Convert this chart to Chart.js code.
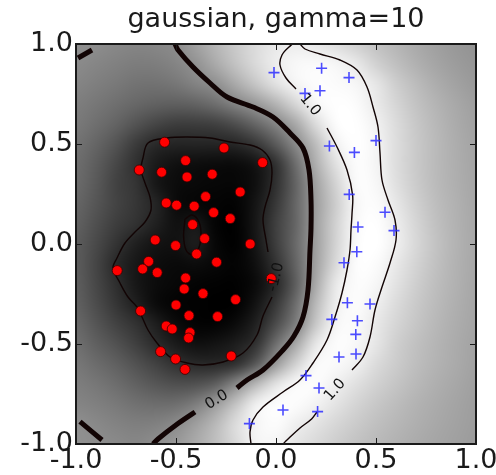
<!DOCTYPE html>
<html>
<head>
<meta charset="utf-8">
<script src="https://cdn.jsdelivr.net/npm/chart.js@4/dist/chart.umd.min.js"></script>
<style>
    html, body { margin: 0; padding: 0; background: #fff; }
</style>
</head>
<body>
<canvas id="svmChart" width="496" height="475"></canvas>
<script>
const titleText = 'gaussian, gamma=10';
const tickValues = [-1.0, -0.5, 0.0, 0.5, 1.0];

// class -1 samples (red dots)
const redPoints = [
    [-0.557, 0.509], [-0.26, 0.48], [-0.067, 0.407], [-0.684, 0.37], [-0.452, 0.417],
    [-0.572, 0.359], [-0.445, 0.335], [-0.319, 0.349], [-0.179, 0.26], [-0.352, 0.237],
    [-0.549, 0.205], [-0.497, 0.194], [-0.409, 0.189], [-0.312, 0.157], [-0.229, 0.127],
    [-0.417, 0.097], [-0.604, 0.02], [-0.502, -0.008], [-0.357, 0.027], [-0.397, -0.05],
    [-0.129, 0.0], [-0.637, -0.087], [-0.667, -0.125], [-0.794, -0.133], [-0.594, -0.143],
    [-0.297, -0.091], [-0.452, -0.17], [-0.024, -0.173], [-0.459, -0.225], [-0.365, -0.248],
    [-0.202, -0.278], [-0.5, -0.305], [-0.677, -0.335], [-0.435, -0.358], [-0.292, -0.363],
    [-0.549, -0.41], [-0.519, -0.425], [-0.43, -0.443], [-0.437, -0.47], [-0.577, -0.538],
    [-0.502, -0.575], [-0.224, -0.56], [-0.455, -0.627]
];

// class +1 samples (blue crosses)
const bluePoints = [
    [-0.01, 0.857], [0.228, 0.879], [0.365, 0.832], [0.145, 0.753], [0.22, 0.766],
    [0.5, 0.517], [0.267, 0.49], [0.392, 0.458], [0.366, 0.248], [0.545, 0.159],
    [0.41, 0.085], [0.59, 0.067], [0.404, -0.039], [0.34, -0.094], [0.357, -0.294],
    [0.47, -0.3], [0.279, -0.377], [0.407, -0.384], [0.399, -0.452], [0.315, -0.565],
    [0.4, -0.55], [0.15, -0.658], [0.215, -0.72], [0.035, -0.83], [0.208, -0.838],
    [-0.133, -0.898]
];

const gridX = [-1.0, -0.9, -0.8, -0.7, -0.6, -0.5, -0.4, -0.3, -0.2, -0.1, 0.0, 0.1, 0.2, 0.3, 0.4, 0.5, 0.6, 0.7, 0.8, 0.9, 1.0];
const gridY = [1.0, 0.9, 0.8, 0.7, 0.6, 0.5, 0.4, 0.3, 0.2, 0.1, 0.0, -0.1, -0.2, -0.3, -0.4, -0.5, -0.6, -0.7, -0.8, -0.9, -1.0];
const decision = [
    [0.03, 0.0, -0.05, -0.08, -0.06, 0.0, 0.2, 0.42, 0.62, 0.8, 0.93, 0.98, 0.93, 0.83, 0.7, 0.55, 0.42, 0.3, 0.2, 0.12, 0.07],
    [-0.02, -0.07, -0.12, -0.16, -0.15, -0.08, 0.06, 0.3, 0.55, 0.78, 0.97, 1.08, 1.1, 1.06, 0.93, 0.7, 0.52, 0.37, 0.25, 0.16, 0.1],
    [-0.08, -0.14, -0.2, -0.26, -0.27, -0.22, -0.1, 0.03, 0.3, 0.58, 0.85, 1.04, 1.13, 1.12, 1.06, 0.9, 0.66, 0.48, 0.33, 0.22, 0.14],
    [-0.15, -0.22, -0.3, -0.38, -0.44, -0.46, -0.42, -0.3, -0.1, 0.12, 0.4, 0.75, 1.06, 1.15, 1.12, 0.95, 0.74, 0.55, 0.4, 0.28, 0.19],
    [-0.2, -0.3, -0.42, -0.58, -0.72, -0.8, -0.8, -0.76, -0.62, -0.38, -0.08, 0.3, 0.8, 1.12, 1.15, 1.02, 0.8, 0.6, 0.44, 0.31, 0.22],
    [-0.27, -0.4, -0.58, -0.82, -1.0, -1.05, -1.05, -1.05, -1.02, -0.85, -0.5, -0.02, 0.5, 1.0, 1.15, 1.05, 0.82, 0.62, 0.46, 0.33, 0.24],
    [-0.32, -0.48, -0.7, -0.93, -1.15, -1.25, -1.28, -1.3, -1.3, -1.2, -0.9, -0.3, 0.35, 0.85, 1.12, 1.05, 0.82, 0.62, 0.46, 0.34, 0.25],
    [-0.35, -0.52, -0.75, -0.9, -1.18, -1.3, -1.33, -1.35, -1.35, -1.25, -0.92, -0.4, 0.22, 0.72, 1.1, 1.08, 0.85, 0.64, 0.47, 0.35, 0.26],
    [-0.4, -0.56, -0.74, -0.88, -1.06, -1.3, -1.35, -1.38, -1.38, -1.2, -0.85, -0.38, 0.18, 0.66, 1.06, 1.12, 0.92, 0.69, 0.5, 0.37, 0.27],
    [-0.45, -0.62, -0.8, -0.93, -1.1, -1.25, -1.2, -1.38, -1.4, -1.18, -0.78, -0.38, 0.2, 0.7, 1.08, 1.15, 0.98, 0.74, 0.53, 0.38, 0.28],
    [-0.5, -0.68, -0.9, -1.1, -1.22, -1.25, -1.15, -1.35, -1.4, -1.2, -0.8, -0.35, 0.2, 0.72, 1.1, 1.16, 1.0, 0.76, 0.55, 0.39, 0.28],
    [-0.5, -0.72, -1.0, -1.18, -1.28, -1.32, -1.3, -1.35, -1.38, -1.25, -0.9, -0.4, 0.22, 0.78, 1.12, 1.12, 0.93, 0.72, 0.53, 0.38, 0.28],
    [-0.48, -0.7, -0.95, -1.18, -1.3, -1.35, -1.38, -1.4, -1.4, -1.3, -1.0, -0.45, 0.3, 0.92, 1.12, 1.07, 0.87, 0.67, 0.5, 0.37, 0.27],
    [-0.45, -0.65, -0.88, -1.1, -1.3, -1.38, -1.4, -1.42, -1.4, -1.22, -0.85, -0.3, 0.45, 0.98, 1.12, 1.0, 0.8, 0.62, 0.47, 0.35, 0.26],
    [-0.38, -0.56, -0.75, -0.92, -1.12, -1.3, -1.38, -1.38, -1.3, -1.08, -0.65, -0.12, 0.6, 1.05, 1.1, 0.93, 0.74, 0.58, 0.44, 0.33, 0.25],
    [-0.3, -0.45, -0.6, -0.78, -0.98, -1.15, -1.25, -1.22, -1.12, -0.9, -0.3, 0.28, 0.9, 1.12, 1.08, 0.9, 0.68, 0.53, 0.41, 0.31, 0.23],
    [-0.22, -0.33, -0.45, -0.6, -0.76, -0.92, -1.0, -1.0, -0.9, -0.5, 0.15, 0.7, 1.08, 1.1, 1.0, 0.8, 0.64, 0.5, 0.39, 0.3, 0.22],
    [-0.15, -0.22, -0.32, -0.44, -0.55, -0.62, -0.6, -0.45, -0.05, 0.42, 0.85, 1.08, 1.12, 1.0, 0.85, 0.7, 0.57, 0.45, 0.35, 0.27, 0.2],
    [-0.08, -0.13, -0.2, -0.28, -0.32, -0.3, -0.15, 0.15, 0.55, 0.98, 1.12, 1.12, 1.03, 0.88, 0.73, 0.6, 0.49, 0.39, 0.31, 0.24, 0.18],
    [0.02, -0.04, -0.1, -0.14, -0.12, -0.02, 0.18, 0.45, 0.8, 1.05, 1.12, 1.0, 0.88, 0.75, 0.63, 0.52, 0.43, 0.35, 0.28, 0.22, 0.17],
    [0.04, 0.01, -0.03, -0.06, 0.01, 0.12, 0.3, 0.52, 0.78, 1.04, 1.05, 0.9, 0.78, 0.66, 0.55, 0.46, 0.38, 0.31, 0.25, 0.2, 0.15]
];

// contour traces, level 0 (thick)
const zeroTopCorner = [[-0.99, 0.93], [-0.92, 0.97]];
const zeroMain = [
    [-0.505, 1.0], [-0.49, 0.97], [-0.415, 0.885], [-0.33, 0.805], [-0.245, 0.735],
    [-0.115, 0.685], [-0.015, 0.635], [0.07, 0.555], [0.135, 0.48], [0.165, 0.37],
    [0.175, 0.22], [0.175, 0.08], [0.17, -0.03], [0.16, -0.23], [0.135, -0.365],
    [0.09, -0.46], [0.035, -0.53], [-0.065, -0.63], [-0.145, -0.68], [-0.195, -0.72]
];
const zeroTail = [[-0.405, -0.84], [-0.5, -0.905], [-0.59, -0.975], [-0.615, -1.0]];
const zeroBottomCorner = [[-0.98, -0.888], [-0.87, -0.98]];

// level -1
const minusOneOuter = [
    [-0.02, -0.265], [-0.065, -0.36], [-0.095, -0.455], [-0.165, -0.545], [-0.265, -0.59],
    [-0.365, -0.605], [-0.445, -0.595], [-0.53, -0.565], [-0.595, -0.495], [-0.64, -0.43],
    [-0.67, -0.365], [-0.695, -0.315], [-0.74, -0.265], [-0.78, -0.195], [-0.815, -0.12],
    [-0.795, -0.07], [-0.755, 0.005], [-0.705, 0.06], [-0.655, 0.11], [-0.625, 0.17],
    [-0.63, 0.235], [-0.655, 0.305], [-0.675, 0.37], [-0.665, 0.43], [-0.64, 0.505],
    [-0.545, 0.53], [-0.445, 0.535], [-0.33, 0.53], [-0.23, 0.51], [-0.13, 0.495],
    [-0.07, 0.47], [-0.03, 0.42], [-0.02, 0.355], [-0.03, 0.27], [-0.055, 0.185],
    [-0.065, 0.12], [-0.05, 0.02], [-0.04, -0.04]
];
const minusOneHole = [
    [-0.455, 0.125], [-0.42, 0.145], [-0.385, 0.11], [-0.375, 0.04], [-0.39, -0.03],
    [-0.42, -0.055], [-0.45, -0.03], [-0.462, 0.04], [-0.455, 0.125]
];

// level +1
const plusOneInner = [
    [-0.125, -1.0], [-0.13, -0.94], [-0.115, -0.88], [-0.065, -0.815], [0.035, -0.74],
    [0.12, -0.68], [0.185, -0.595], [0.255, -0.48], [0.295, -0.365], [0.33, -0.245],
    [0.355, -0.13], [0.37, -0.03], [0.375, 0.07], [0.38, 0.15], [0.383, 0.245],
    [0.355, 0.37], [0.305, 0.485], [0.255, 0.58]
];
const plusOneOuter = [
    [0.10, 0.775], [0.05, 0.83], [0.02, 0.895], [0.03, 0.945], [0.065, 0.985],
    [0.105, 1.01], [0.145, 0.975], [0.22, 0.95], [0.32, 0.92], [0.405, 0.87],
    [0.455, 0.785], [0.485, 0.685], [0.51, 0.585], [0.52, 0.455], [0.53, 0.32],
    [0.56, 0.22], [0.595, 0.12], [0.60, 0.02], [0.57, -0.095], [0.53, -0.215],
    [0.495, -0.33], [0.47, -0.465], [0.435, -0.565], [0.38, -0.63]
];
const plusOneTail = [[0.205, -0.84], [0.178, -0.875], [0.12, -0.92], [0.055, -0.98], [0.035, -1.0]];

// inline contour labels (data position, angle in degrees)
const contourLabels = [
    { text: '0.0', x: -0.297, y: -0.78, angle: -31 },
    { text: '-1.0', x: 0.0, y: -0.165, angle: -76 },
    { text: '1.0', x: 0.17, y: 0.695, angle: 51 },
    { text: '1.0', x: 0.295, y: -0.73, angle: -48 }
];

const toXY = pts => pts.map(p => ({ x: p[0], y: p[1] }));

let vMin = Infinity, vMax = -Infinity;
decision.forEach(row => row.forEach(v => { vMin = Math.min(vMin, v); vMax = Math.max(vMax, v); }));

function catmull(p0, p1, p2, p3, t) {
    return p1 + 0.5 * t * (p2 - p0 + t * (2 * p0 - 5 * p1 + 4 * p2 - p3 + t * (3 * (p1 - p2) + p3 - p0)));
}

function sampleDecision(vx, vy) {
    const nx = gridX.length, ny = gridY.length;
    const fx = (vx - gridX[0]) / (gridX[1] - gridX[0]);
    const fy = (vy - gridY[0]) / (gridY[1] - gridY[0]);
    const ix = Math.max(0, Math.min(nx - 2, Math.floor(fx)));
    const iy = Math.max(0, Math.min(ny - 2, Math.floor(fy)));
    const tx = fx - ix, ty = fy - iy;
    const cx = k => Math.max(0, Math.min(nx - 1, k));
    const cy = k => Math.max(0, Math.min(ny - 1, k));
    const rows = [];
    for (let m = -1; m <= 2; m++) {
        const r = decision[cy(iy + m)];
        rows.push(catmull(r[cx(ix - 1)], r[cx(ix)], r[cx(ix + 1)], r[cx(ix + 2)], tx));
    }
    return catmull(rows[0], rows[1], rows[2], rows[3], ty);
}

// grey background painted from the decision grid
const shadePlugin = {
    id: 'shade',
    beforeDatasetsDraw(chart) {
        const { ctx, chartArea: a, scales } = chart;
        const left = Math.round(a.left), top = Math.round(a.top);
        const w = Math.round(a.right) - left, h = Math.round(a.bottom) - top;
        const img = ctx.createImageData(w, h);
        for (let j = 0; j < h; j++) {
            const vy = scales.y.getValueForPixel(top + j + 0.5);
            for (let i = 0; i < w; i++) {
                const vx = scales.x.getValueForPixel(left + i + 0.5);
                const v = sampleDecision(vx, vy);
                let g = Math.round(255 * (v - vMin) / (vMax - vMin));
                g = Math.max(0, Math.min(255, g));
                const k = (j * w + i) * 4;
                img.data[k] = g; img.data[k + 1] = g; img.data[k + 2] = g; img.data[k + 3] = 255;
            }
        }
        ctx.putImageData(img, left, top);
    }
};

// contour labels, axes frame and inward ticks
const framePlugin = {
    id: 'frame',
    afterDatasetsDraw(chart) {
        const { ctx, chartArea: a, scales } = chart;
        ctx.save();
        ctx.font = '15px "DejaVu Sans"';
        ctx.fillStyle = '#111';
        ctx.textAlign = 'center';
        ctx.textBaseline = 'middle';
        contourLabels.forEach(l => {
            ctx.save();
            ctx.translate(scales.x.getPixelForValue(l.x), scales.y.getPixelForValue(l.y));
            ctx.rotate(l.angle * Math.PI / 180);
            ctx.fillText(l.text, 0, 0);
            ctx.restore();
        });

        ctx.strokeStyle = '#1a1a1a';
        ctx.lineWidth = 1;
        tickValues.forEach(t => {
            const px = Math.round(scales.x.getPixelForValue(t)) + 0.5;
            const py = Math.round(scales.y.getPixelForValue(t)) + 0.5;
            ctx.beginPath();
            ctx.moveTo(px, a.bottom); ctx.lineTo(px, a.bottom - 6);
            ctx.moveTo(px, a.top); ctx.lineTo(px, a.top + 6);
            ctx.moveTo(a.left, py); ctx.lineTo(a.left + 6, py);
            ctx.moveTo(a.right, py); ctx.lineTo(a.right - 6, py);
            ctx.stroke();
        });

        ctx.lineWidth = 2;
        ctx.strokeRect(a.left, a.top, a.right - a.left, a.bottom - a.top);
        ctx.restore();
    }
};

function contourSet(pts, width) {
    return {
        data: toXY(pts),
        showLine: true,
        borderColor: '#120404',
        borderWidth: width,
        tension: 0.35,
        pointRadius: 0,
        clip: 0
    };
}

const tickFont = { family: 'DejaVu Sans', size: 27 };

new Chart(document.getElementById('svmChart').getContext('2d'), {
    type: 'scatter',
    data: {
        datasets: [
            {
                label: 'class +1',
                data: toXY(bluePoints),
                pointStyle: 'cross',
                pointRadius: 5.5,
                borderColor: 'rgba(45, 45, 255, 0.85)',
                borderWidth: 1.6
            },
            {
                label: 'class -1',
                data: toXY(redPoints),
                pointStyle: 'circle',
                pointRadius: 5,
                backgroundColor: '#ff0000',
                borderColor: '#3a0000',
                borderWidth: 0.8
            },
            contourSet(zeroTopCorner, 5),
            contourSet(zeroMain, 5),
            contourSet(zeroTail, 5),
            contourSet(zeroBottomCorner, 5),
            contourSet(minusOneOuter, 1.4),
            contourSet(minusOneHole, 1.4),
            contourSet(plusOneInner, 1.4),
            contourSet(plusOneOuter, 1.4),
            contourSet(plusOneTail, 1.4)
        ]
    },
    options: {
        responsive: false,
        animation: false,
        events: [],
        layout: { padding: { left: 0, right: 20, top: 0, bottom: 0 } },
        scales: {
            x: {
                type: 'linear',
                min: -1, max: 1,
                afterBuildTicks: s => { s.ticks = tickValues.map(v => ({ value: v })); },
                afterFit: s => { s.height = 31; s.paddingLeft = 0; s.paddingRight = 0; },
                grid: { display: false, drawTicks: false },
                border: { display: false },
                ticks: {
                    autoSkip: false, maxRotation: 0, padding: 1,
                    color: '#1a1a1a', font: tickFont,
                    callback: v => v.toFixed(1)
                }
            },
            y: {
                type: 'linear',
                min: -1, max: 1,
                afterBuildTicks: s => { s.ticks = tickValues.map(v => ({ value: v })); },
                afterFit: s => { s.width = 76; s.paddingTop = 0; s.paddingBottom = 0; },
                grid: { display: false, drawTicks: false },
                border: { display: false },
                ticks: {
                    autoSkip: false, padding: 3,
                    color: '#1a1a1a', font: tickFont,
                    callback: v => v.toFixed(1)
                }
            }
        },
        plugins: {
            legend: { display: false },
            tooltip: { enabled: false },
            title: {
                display: true,
                fullSize: false,
                text: titleText,
                color: '#1a1a1a',
                font: { family: 'DejaVu Sans', size: 27, weight: 'normal' },
                padding: { top: 4, bottom: 7.6 }
            }
        }
    },
    plugins: [shadePlugin, framePlugin]
});
</script>
</body>
</html>
